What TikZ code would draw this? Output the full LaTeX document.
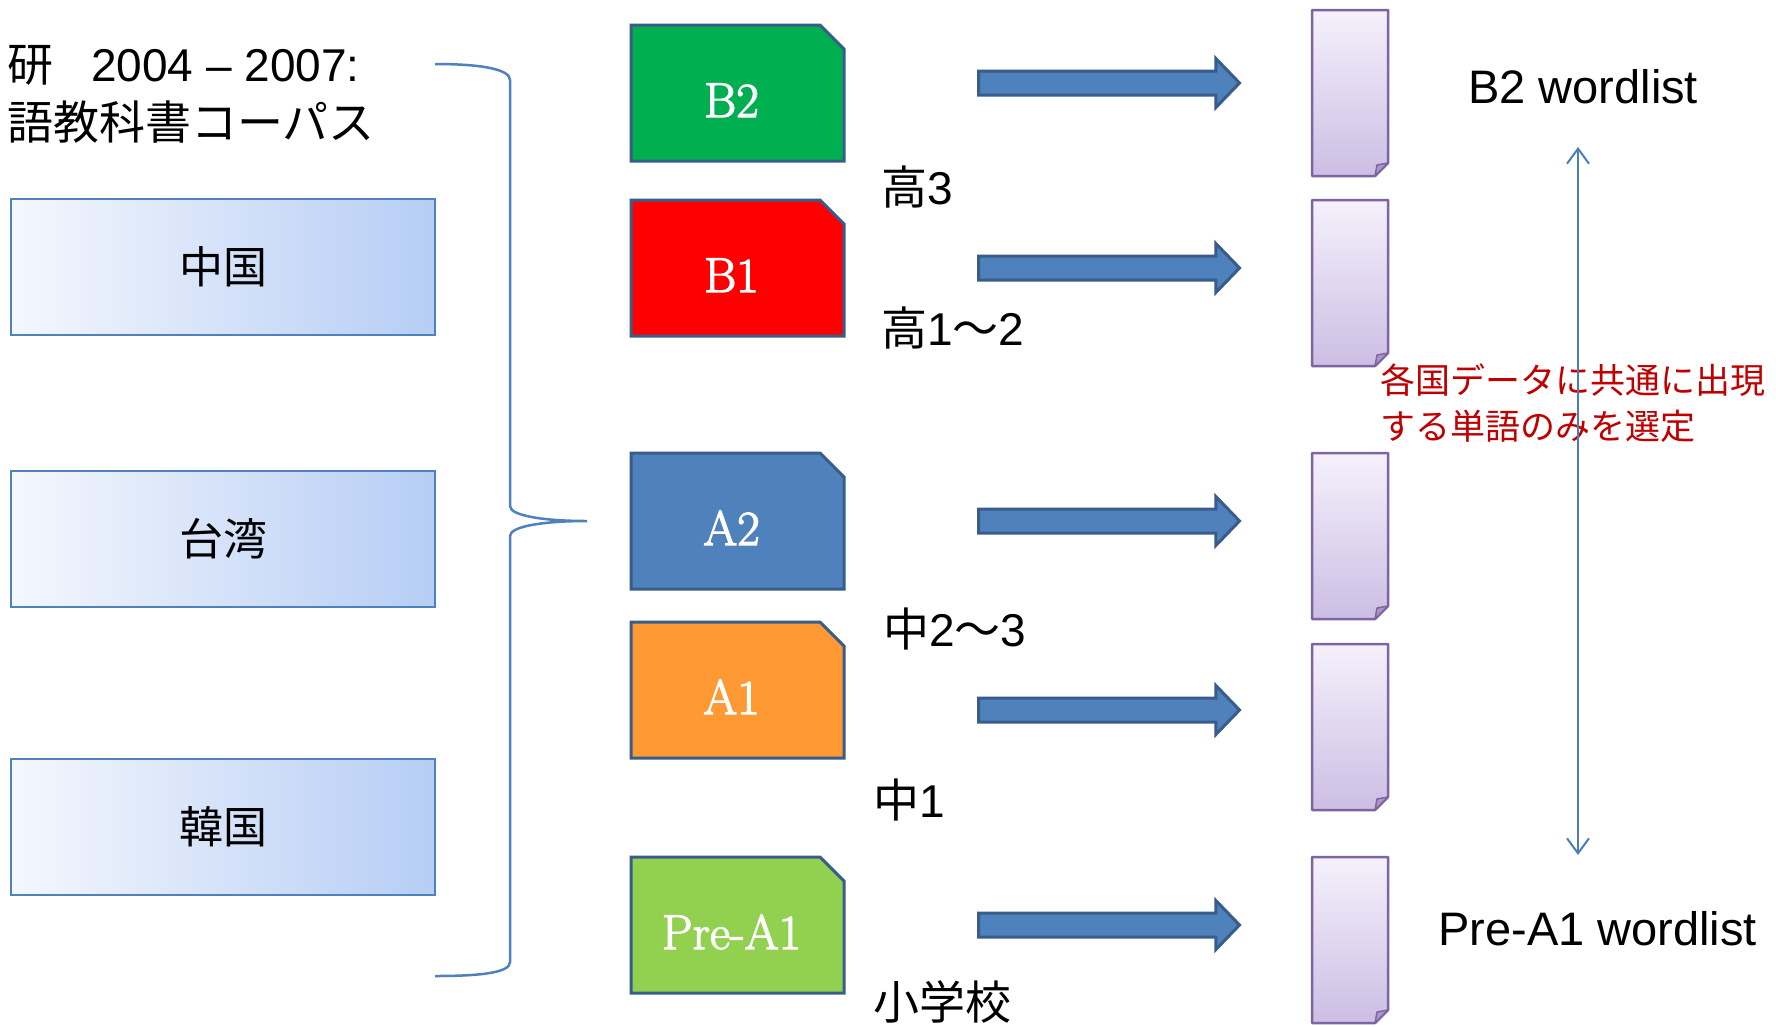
\documentclass[tikz,border=0pt]{standalone}
\usepackage{fontspec}
\newfontfamily\arial{Liberation Sans}
\newfontfamily\cjk{Noto Sans CJK JP}
\newfontfamily\lvlfont[FakeBold=2.5]{Latin Modern Roman}
\usetikzlibrary{shapes.misc,shapes.arrows,arrows.meta}
\definecolor{bordblue}{RGB}{79,129,189}
\definecolor{darkblue}{RGB}{56,93,138}
\definecolor{ctryL}{RGB}{244,247,253}
\definecolor{ctryR}{RGB}{182,205,245}
\definecolor{cB2}{RGB}{0,176,80}
\definecolor{cB1}{RGB}{255,0,0}
\definecolor{cA2}{RGB}{79,129,189}
\definecolor{cA1}{RGB}{255,153,51}
\definecolor{cPre}{RGB}{146,208,80}
\definecolor{docborder}{RGB}{128,100,162}
\definecolor{docT}{RGB}{245,241,251}
\definecolor{docB}{RGB}{204,190,228}
\definecolor{docfold}{RGB}{170,150,205}
\definecolor{redtxt}{RGB}{192,0,0}
\definecolor{linkblue}{RGB}{74,126,187}
\tikzset{
  ctry/.style={rectangle, draw=bordblue, line width=2.5pt, left color=ctryL, right color=ctryR,
    minimum width=424pt, minimum height=136pt, inner sep=0pt,
    font=\cjk\fontsize{44}{50}\selectfont},
  lvl/.style={chamfered rectangle, chamfered rectangle corners=north east,
    chamfered rectangle xsep=12pt, chamfered rectangle ysep=12pt,
    draw=darkblue, line width=3pt, minimum width=213pt, minimum height=136pt, inner sep=0pt,
    text=white, text height=48pt, text depth=0pt, font=\lvlfont\fontsize{49}{56}\selectfont},
  blk/.style={single arrow, draw=darkblue, fill=bordblue, line width=3pt,
    inner xsep=0pt, inner ysep=10.5pt, single arrow head extend=12.5pt,
    single arrow tip angle=92, minimum height=261pt, anchor=tail},
  lab/.style={anchor=base west, inner sep=0pt, font=\arial\fontsize{46}{52}\selectfont},
  red/.style={anchor=base west, inner sep=0pt, text=redtxt, font=\cjk\fontsize{35}{40}\selectfont},
  pics/docicon/.style={code={
    \shade[top color=docT, bottom color=docB] (0,0) -- (76,0) -- (76,153) -- (63,166) -- (0,166) -- cycle;
    \draw[docborder, line width=2.5pt, line join=round] (0,0) -- (76,0) -- (76,153) -- (63,166) -- (0,166) -- cycle;
    \filldraw[fill=docfold, draw=docborder, line width=1.5pt, line join=round] (76,153) -- (65,155) -- (63,166) -- cycle;
  }}
}
\begin{document}
\begin{tikzpicture}[x=1pt,y=-1pt]
\useasboundingbox[fill=white] (0,0) rectangle (1776,1026);

% title
\node[lab] (t1) at (7,81) {{\cjk 研}\hspace{38pt}2004 – 2007:};
\node[lab] (t2) at (7,139) {\cjk 語教科書コーパス};

% country boxes
\node[ctry] (cn) at (223,267) {中国};
\node[ctry] (tw) at (223,539) {台湾};
\node[ctry] (kr) at (223,827) {韓国};

% brace
\draw[bordblue, line width=2.5pt]
  (435,64) .. controls (485,64) and (510,70) .. (510,80)
  -- (510,506) .. controls (510,516) and (545,521) .. (587,521)
  .. controls (545,521) and (510,526) .. (510,536)
  -- (510,962) .. controls (510,972) and (485,976) .. (435,976);
\coordinate (bracetip) at (587,521);

% level boxes
\node[lvl, fill=cB2] (b2) at (737.5,93) {B2\kern12pt};
\node[lvl, fill=cB1] (b1) at (737.5,268) {B1\kern12pt};
\node[lvl, fill=cA2] (a2) at (737.5,521) {A2\kern12pt};
\node[lvl, fill=cA1] (a1) at (737.5,690) {A1\kern12pt};
\node[lvl, fill=cPre] (pa1) at (737.5,925) {Pre-A1\kern12pt};

% grade labels
\node[lab] (g1) at (881,204) {{\cjk 高}3};
\node[lab] (g2) at (881,345) {{\cjk 高}1{\cjk ～}2};
\node[lab] (g3) at (883,646) {{\cjk 中}2{\cjk ～}3};
\node[lab] (g4) at (873,817) {{\cjk 中}1};
\node[lab] (g5) at (873,1019) {\cjk 小学校};

% block arrows
\node[blk] (ar1) at (977,83) {};
\node[blk] (ar2) at (977,268) {};
\node[blk] (ar3) at (977,521) {};
\node[blk] (ar4) at (977,710) {};
\node[blk] (ar5) at (977,925) {};

% documents
\pic (d1) at (1312,10) {docicon};
\pic (d2) at (1312,200) {docicon};
\pic (d3) at (1312,453) {docicon};
\pic (d4) at (1312,644) {docicon};
\pic (d5) at (1312,857) {docicon};

% wordlist labels
\node[lab, font=\arial\fontsize{47}{52}\selectfont] (wl1) at (1468,103) {B2 wordlist};
\node[lab, font=\arial\fontsize{47}{52}\selectfont] (wl2) at (1438,945) {Pre-A1 wordlist};

% red note
\node[red] (n1) at (1380,393) {各国データに共通に出現};
\node[red] (n2) at (1380,439) {する単語のみを選定};

% vertical double arrow
\coordinate (vtop) at (1578,147);
\coordinate (vbot) at (1578,855);
\draw[linkblue, line width=2pt, {Straight Barb[length=15pt,width=22pt]}-{Straight Barb[length=15pt,width=22pt]}] (vtop) -- (vbot);
\end{tikzpicture}
\end{document}
